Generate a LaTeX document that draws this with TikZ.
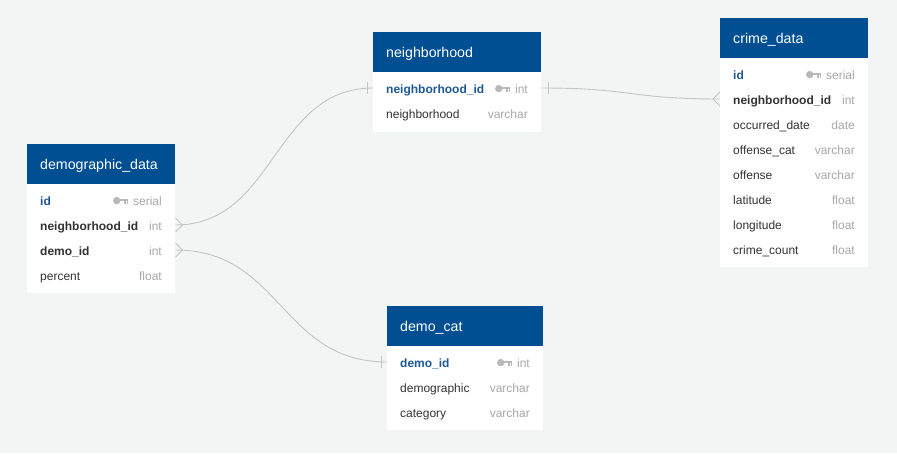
\documentclass[tikz,border=0pt]{standalone}
\usepackage{fontspec}
\setmainfont{Liberation Sans}
\definecolor{bgc}{RGB}{243,244,244}
\definecolor{hdrblue}{RGB}{0,79,147}
\definecolor{pkblue}{RGB}{30,88,152}
\definecolor{txt}{RGB}{51,51,51}
\definecolor{typegrey}{RGB}{168,168,168}
\definecolor{keygrey}{RGB}{185,185,185}
\definecolor{conngrey}{RGB}{196,196,196}
\tikzset{
 hdr/.style={fill=hdrblue, draw=none, minimum height=40pt, inner sep=0, anchor=north west},
 hdrtext/.style={text=white, font=\fontsize{14.2}{16}\selectfont, inner sep=0, anchor=base west},
 bodybox/.style={fill=white, draw=none, inner sep=0, anchor=north west},
 rowbox/.style={minimum height=25pt, inner sep=0, anchor=west},
 nametext/.style={text=txt, font=\fontsize{12}{14}\selectfont, inner sep=0, anchor=base west},
 pktext/.style={nametext, text=pkblue, font=\fontsize{12}{14}\selectfont\bfseries},
 fktext/.style={nametext, font=\fontsize{12}{14}\selectfont\bfseries},
 typetext/.style={text=typegrey, font=\fontsize{12}{14}\selectfont, inner sep=0, anchor=base east},
 conn/.style={draw=conngrey, line width=0.9pt},
}
\newcommand\ERtable[6]{%
  \node[hdr, minimum width=#4pt] (#1) at (#2,#3) {};
  \node[bodybox, minimum width=#4pt, minimum height=#5pt] (#1-body) at (#2,#3+40) {};
  \node[hdrtext] (#1-title) at (#2+13,#3+25.3) {#6};
}
\newcommand\ERrow[7]{%
  \node[rowbox, minimum width=#4pt] (#1) at (#2,#3) {};
  \node[#5] (#1-name) at (#2+13,#3+5.4) {#6};
  \node[typetext] (#1-type) at (#2+#4-13,#3+5.4) {#7};
}
\newcommand\ERkey[1]{%
  \begin{scope}[shift={(#1-type.west |- #1.center)}]
    \fill[keygrey] (-16.2,0.6) circle[radius=3.7];
    \fill[keygrey] (-14,-1.2) rectangle (-4.5,1.4);
    \fill[keygrey] (-9,1.4) rectangle (-7.3,3.6);
    \fill[keygrey] (-6.3,1.4) rectangle (-4.5,3.6);
  \end{scope}%
}
\begin{document}
\begin{tikzpicture}[x=1pt,y=-1pt]
\useasboundingbox (0,0) rectangle (897,453);
\fill[bgc] (0,0) rectangle (897,453);

% demographic_data
\ERtable{dd}{27}{144}{148}{109}{demographic\_data}
\ERrow{dd-id}{27}{200}{148}{pktext}{id}{serial}
\ERkey{dd-id}
\ERrow{dd-nid}{27}{225}{148}{fktext}{neighborhood\_id}{int}
\ERrow{dd-did}{27}{250}{148}{fktext}{demo\_id}{int}
\ERrow{dd-pct}{27}{275}{148}{nametext}{percent}{float}

% neighborhood
\ERtable{nb}{373}{32}{168}{60}{neighborhood}
\ERrow{nb-nid}{373}{88}{168}{pktext}{neighborhood\_id}{int}
\ERkey{nb-nid}
\ERrow{nb-nb}{373}{113}{168}{nametext}{neighborhood}{varchar}

% crime_data
\ERtable{cd}{720}{18}{148}{209}{crime\_data}
\ERrow{cd-id}{720}{74}{148}{pktext}{id}{serial}
\ERkey{cd-id}
\ERrow{cd-nid}{720}{99}{148}{fktext}{neighborhood\_id}{int}
\ERrow{cd-od}{720}{124}{148}{nametext}{occurred\_date}{date}
\ERrow{cd-oc}{720}{149}{148}{nametext}{offense\_cat}{varchar}
\ERrow{cd-of}{720}{174}{148}{nametext}{offense}{varchar}
\ERrow{cd-lat}{720}{199}{148}{nametext}{latitude}{float}
\ERrow{cd-lon}{720}{224}{148}{nametext}{longitude}{float}
\ERrow{cd-cc}{720}{249}{148}{nametext}{crime\_count}{float}

% demo_cat
\ERtable{dc}{387}{306}{156}{84}{demo\_cat}
\ERrow{dc-did}{387}{362}{156}{pktext}{demo\_id}{int}
\ERkey{dc-did}
\ERrow{dc-dem}{387}{387}{156}{nametext}{demographic}{varchar}
\ERrow{dc-cat}{387}{412}{156}{nametext}{category}{varchar}

% connectors
\draw[conn] (dd-nid.east) .. controls +(100,0) and +(-100,0) .. (nb-nid.west);
\draw[conn] ([yshift=7pt]dd-nid.east) -- ([xshift=7pt]dd-nid.east) -- ([yshift=-7pt]dd-nid.east);
\draw[conn] ([xshift=-6pt,yshift=6pt]nb-nid.west) -- ([xshift=-6pt,yshift=-6pt]nb-nid.west);

\draw[conn] (dd-did.east) .. controls +(106,0) and +(-106,0) .. (dc-did.west);
\draw[conn] ([yshift=7pt]dd-did.east) -- ([xshift=7pt]dd-did.east) -- ([yshift=-7pt]dd-did.east);
\draw[conn] ([xshift=-6pt,yshift=6pt]dc-did.west) -- ([xshift=-6pt,yshift=-6pt]dc-did.west);

\draw[conn] (nb-nid.east) .. controls +(90,0) and +(-90,0) .. (cd-nid.west);
\draw[conn] ([xshift=7pt,yshift=6pt]nb-nid.east) -- ([xshift=7pt,yshift=-6pt]nb-nid.east);
\draw[conn] ([yshift=7pt]cd-nid.west) -- ([xshift=-7pt]cd-nid.west) -- ([yshift=-7pt]cd-nid.west);
\end{tikzpicture}
\end{document}
